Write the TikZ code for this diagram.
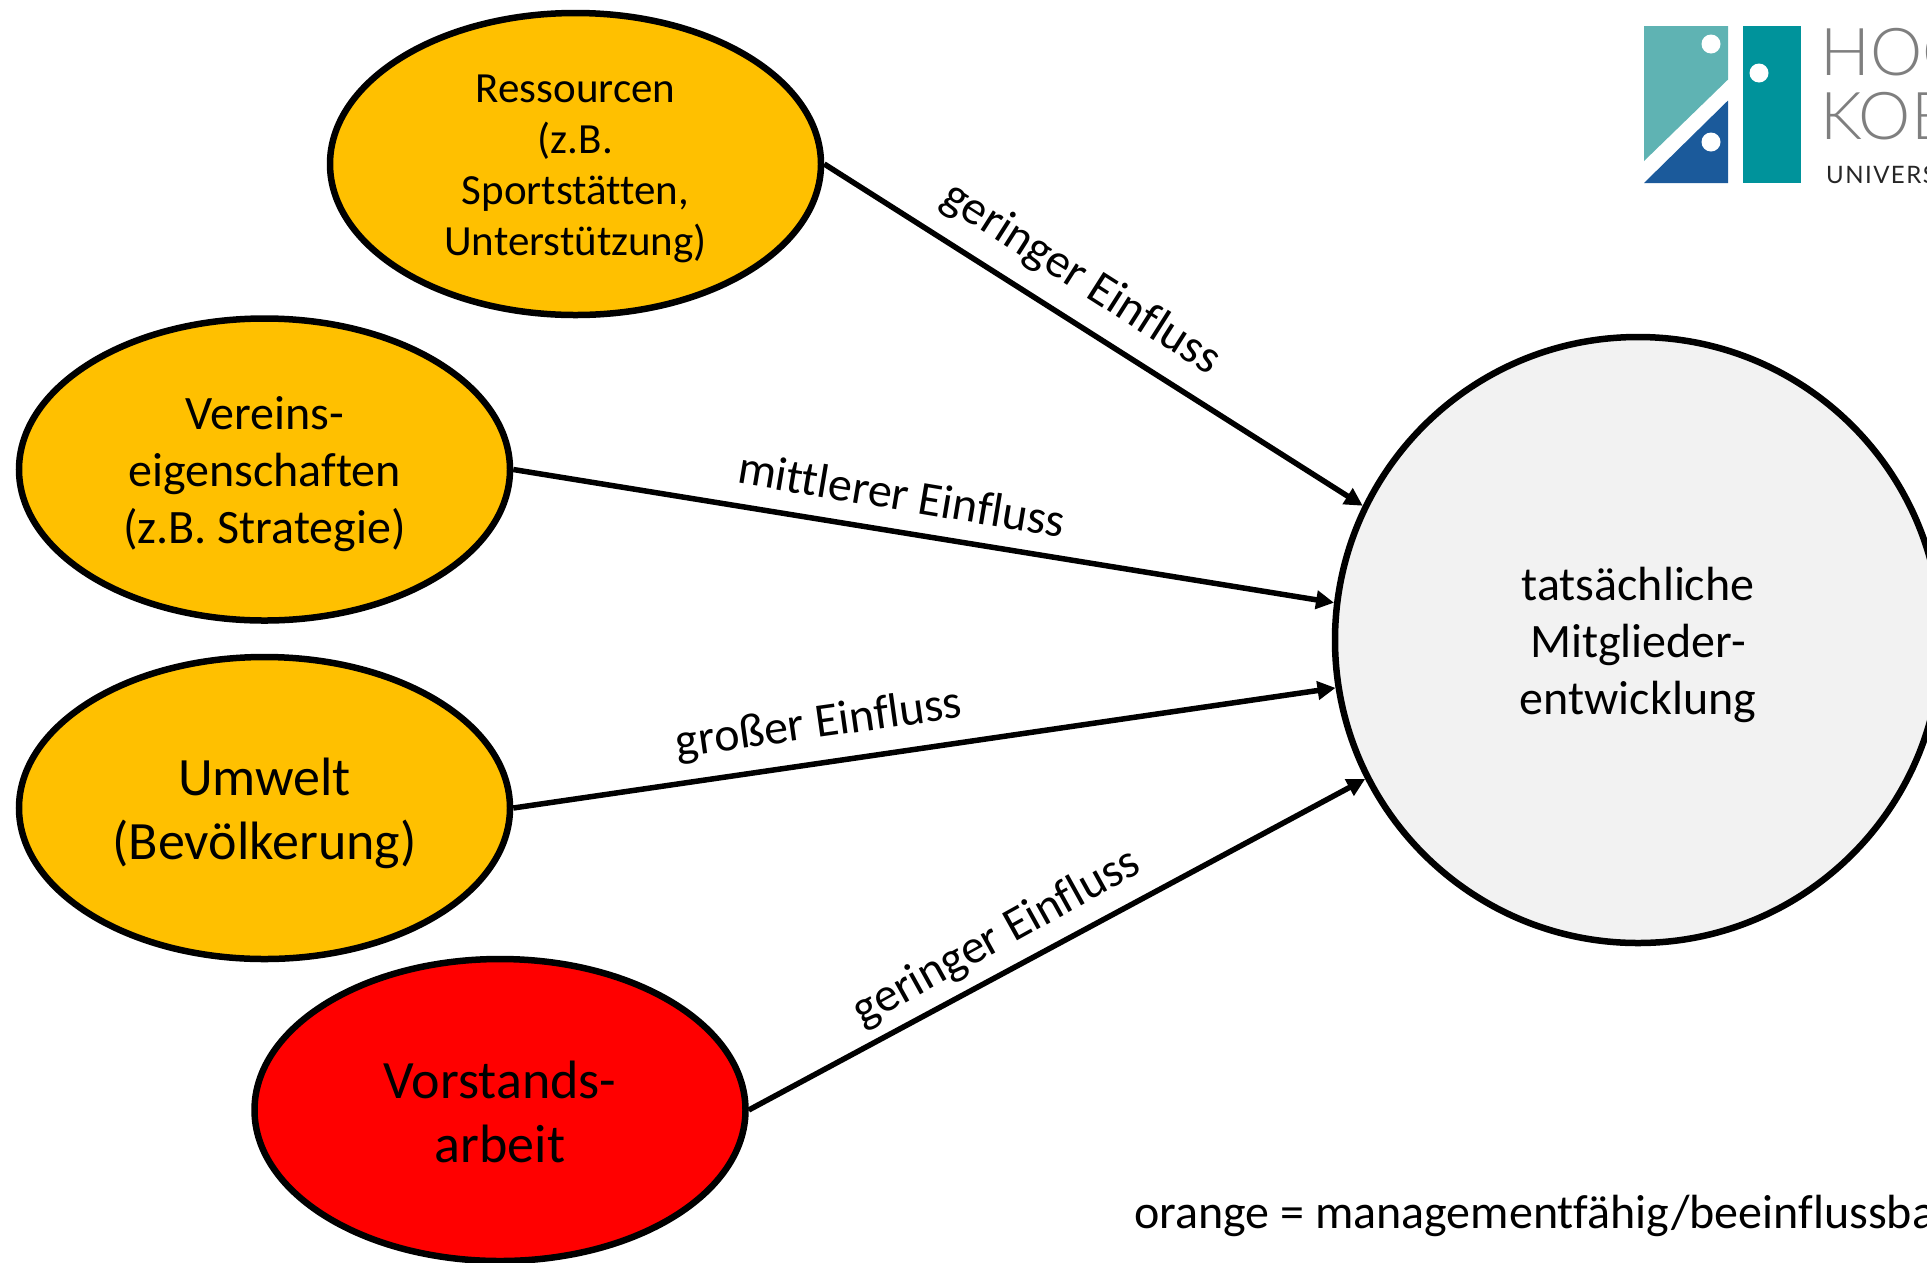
\documentclass[tikz,border=0pt]{standalone}
\usepackage{fontspec}
\setmainfont[RawFeature={-liga;-clig;-dlig;-calt}]{Carlito}
\newfontfamily\logofont{Lato Light}
\newfontfamily\logosmall[LetterSpace=6]{Lato}
\usetikzlibrary{arrows.meta,shapes.geometric}
\definecolor{orangefill}{HTML}{FFC000}
\definecolor{circfill}{HTML}{F2F2F2}
\definecolor{logolight}{HTML}{5FB3B3}
\definecolor{logoteal}{HTML}{00939B}
\definecolor{logoblue}{HTML}{1B5A9B}
\definecolor{logogrey}{HTML}{7F7F7F}
\newcommand{\fsz}[2]{\fontsize{#1}{#2}\selectfont}
\tikzset{
  x=1pt,y=-1pt,
  factor/.style={ellipse,draw=black,line width=6.5pt,minimum width=491pt,minimum height=302pt,inner sep=0pt,align=center,text=black},
  orangefactor/.style={factor,fill=orangefill},
  redfactor/.style={factor,fill=red},
  target/.style={circle,draw=black,fill=circfill,line width=6.5pt,minimum size=606pt,inner sep=0pt,align=center},
  link/.style={draw=black,line width=5.5pt,-{Triangle[length=18pt,width=18pt]}},
  lab/.style={font=\fsz{48}{58},inner sep=0pt},
  logoword/.style={anchor=base west,inner sep=0pt,text=logogrey},
}
\begin{document}
\begin{tikzpicture}
\useasboundingbox (0,0) rectangle (1927,1262);
\clip (0,0) rectangle (1927,1262);
% logo
\fill[logolight] (1644,26) -- (1728,26) -- (1728,79.5) -- (1644,161) -- cycle;
\fill[logoblue] (1644,183) -- (1728,100.5) -- (1728,183) -- cycle;
\fill[logoteal] (1743,26) rectangle (1801,183);
\fill[white] (1711,44) circle[radius=9.5];
\fill[white] (1759,73) circle[radius=9.5];
\fill[white] (1711,142) circle[radius=9.5];
\node[logoword,font=\logofont\fsz{66}{66}] (lh) at (1820,75) {HOCHSCHULE};
\node[logoword,font=\logofont\fsz{66}{66}] (lk) at (1820,139) {KOBLENZ};
\node[logoword,font=\logosmall\fsz{24}{24},text=black!85] (lu) at (1826,183) {UNIVERSITY OF APPLIED SCIENCES};
% nodes
\node[orangefactor,font=\fsz{43}{51},text height=191pt] (res) at (575.5,164) {Ressourcen\\(z.B.\\Sportstätten,\\Unterstützung)};
\node[orangefactor,font=\fsz{48}{57},text height=157pt] (ver) at (264.5,469.5) {Vereins-\\eigenschaften\\(z.B. Strategie)};
\node[orangefactor,font=\fsz{54}{64},text height=112pt] (umw) at (264.5,808) {Umwelt\\(Bevölkerung)};
\node[redfactor,font=\fsz{54}{64},text height=105pt] (vor) at (500,1110) {Vorstands-\\arbeit};
\node[target,font=\fsz{48}{57},text height=157pt] (tat) at (1638,640) {tatsächliche\\Mitglieder-\\entwicklung};
% connectors
\draw[link] (res.east) -- (tat.154);
\draw[link] (ver.east) -- (tat.173);
\draw[link] (umw.east) -- (tat.189);
\draw[link] (vor.east) -- (tat.207);
% labels
\node[lab,rotate=-32.5] (l1) at (1081,279) {geringer Einfluss};
\node[lab,rotate=-9.5] (l2) at (902,494) {mittlerer Einfluss};
\node[lab,rotate=8] (l3) at (819,725) {großer Einfluss};
\node[lab,rotate=29] (l4) at (997,938) {geringer Einfluss};
\node[anchor=base west,inner sep=0pt,font=\fsz{48}{58}] (note) at (1134,1228) {orange = managementfähig/beeinflussbar};
\end{tikzpicture}
\end{document}
